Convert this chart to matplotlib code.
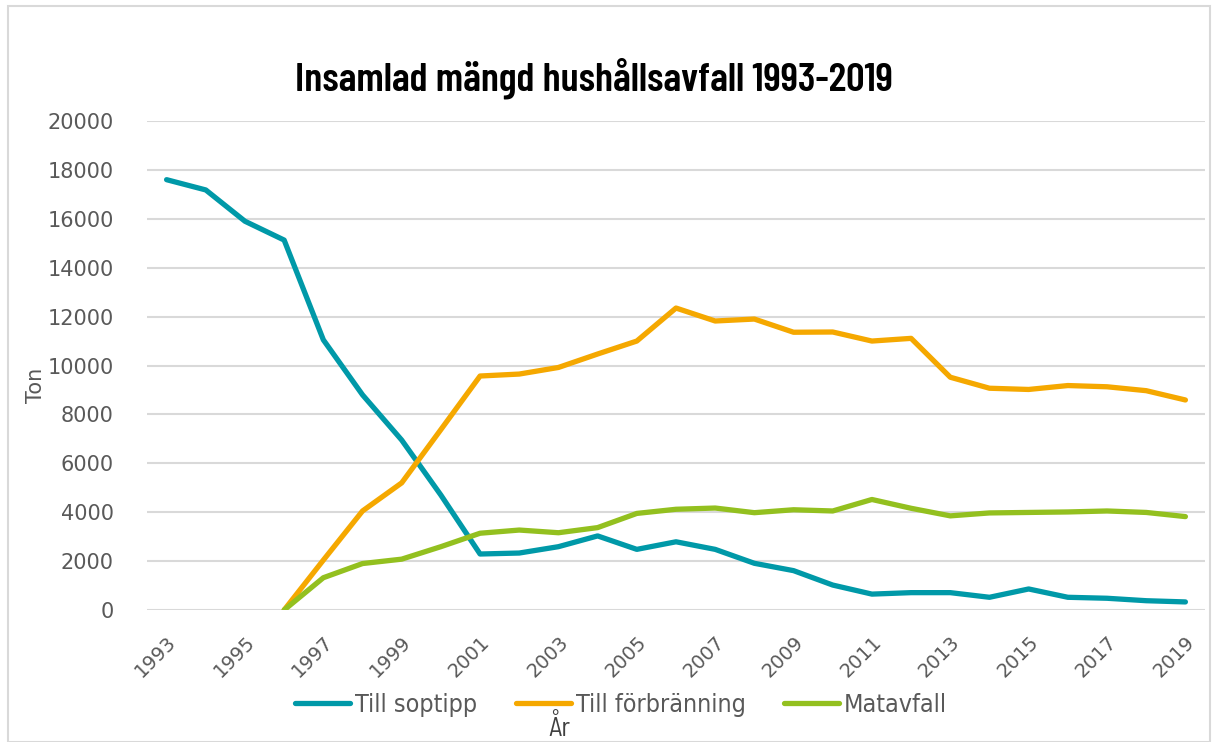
import matplotlib
matplotlib.use('Agg')
import matplotlib.pyplot as plt
from matplotlib.patches import Rectangle

# data
years = list(range(1993, 2020))
soptipp = [17600, 17180, 15900, 15130, 11050, 8800, 6950, 4700, 2290, 2330,
           2590, 3030, 2480, 2790, 2480, 1910, 1610, 1020, 650, 710,
           710, 520, 860, 520, 480, 380, 330]
forbranning = [None, None, None, 0, 2040, 4050, 5200, 7380, 9570, 9650,
               9920, 10470, 11000, 12350, 11820, 11900, 11360, 11370, 11000, 11110,
               9520, 9070, 9020, 9180, 9130, 8970, 8590]
matavfall = [None, None, None, 0, 1320, 1900, 2080, 2590, 3140, 3270,
             3160, 3370, 3950, 4120, 4170, 3980, 4100, 4050, 4520, 4160,
             3850, 3970, 3990, 4010, 4050, 3990, 3820]
series_names = ['Till soptipp', 'Till förbränning', 'Matavfall']
colors = ['#0099A8', '#F5A800', '#93C01F']
yticks = list(range(0, 20001, 2000))
xtick_years = years[::2]

title_font = ['Barlow Condensed', 'DejaVu Sans']
narrow = ['Barlow Semi Condensed', 'DejaVu Sans']

fig = plt.figure(figsize=(12.15, 7.42), dpi=100)
ax = fig.add_axes([147 / 1215, 1 - 610 / 742, (1205 - 147) / 1215, (610 - 121) / 742])

for vals, name, c in zip([soptipp, forbranning, matavfall], series_names, colors):
    xs = [y for y, v in zip(years, vals) if v is not None]
    ys = [v for v in vals if v is not None]
    ax.plot(xs, ys, color=c, lw=3.8, label=name, solid_capstyle='round', solid_joinstyle='round')

ax.set_xlim(1992.5, 2019.5)
ax.set_ylim(0, 20000)
ax.set_yticks(yticks)
ax.set_yticklabels([str(t) for t in yticks])
ax.set_xticks(xtick_years)
ax.set_xticklabels([str(t) for t in xtick_years], rotation=45, ha='right', va='top',
                   rotation_mode='anchor')
ax.tick_params(axis='y', length=0, pad=24, labelsize=15, labelcolor='#595959')
ax.tick_params(axis='x', length=0, pad=16, labelsize=14, labelcolor='#595959')
ax.grid(axis='y', color='#D9D9D9', lw=1.5)
ax.set_axisbelow(True)
for s in ax.spines.values():
    s.set_visible(False)

fig.text(36 / 1215, 1 - 385 / 742, 'Ton', rotation=90, ha='center', va='center',
         fontsize=15, color='#595959')
fig.text(594 / 1215, 1 - 78 / 742, 'Insamlad mängd hushållsavfall 1993-2019',
         ha='center', va='center', fontsize=29.5, fontweight='semibold', family=title_font,
         color='black')
fig.text(559 / 1215, 1 - 741 / 742, 'År', ha='center', va='bottom', fontsize=19,
         family=narrow, color='#404040')

fig.legend(loc='center', bbox_to_anchor=(621 / 1215, 1 - 705 / 742), ncol=3, frameon=False,
           prop={'family': 'DejaVu Sans', 'stretch': 'condensed', 'size': 18},
           labelcolor='#595959', handlelength=2.2, handletextpad=0.2, columnspacing=1.55)

fig.patches.append(Rectangle((8 / 1215, 0), (1210 - 8) / 1215, 1 - 6 / 742,
                             transform=fig.transFigure, fill=False, edgecolor='#D9D9D9', lw=1.5))

fig.savefig('out.png', dpi=100)
